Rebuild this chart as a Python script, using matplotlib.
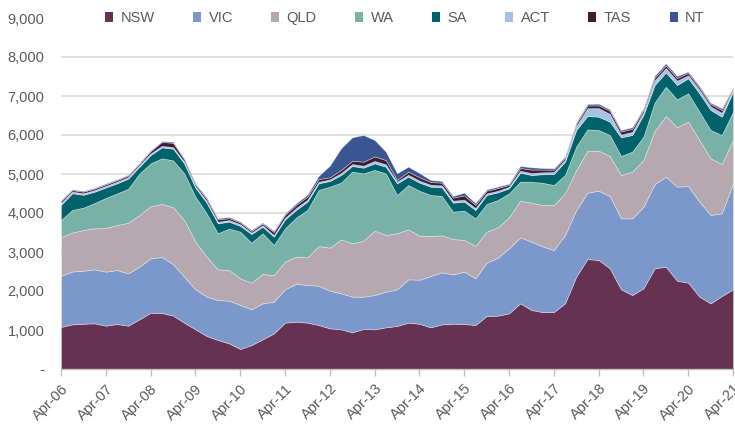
import matplotlib
matplotlib.use("Agg")
import matplotlib.pyplot as plt
from matplotlib.patches import Patch
from matplotlib.ticker import FuncFormatter
import numpy as np

plt.rcParams['font.family'] = ['Liberation Sans', 'DejaVu Sans']

years = ['Apr-06', 'Apr-07', 'Apr-08', 'Apr-09', 'Apr-10', 'Apr-11', 'Apr-12', 'Apr-13',
         'Apr-14', 'Apr-15', 'Apr-16', 'Apr-17', 'Apr-18', 'Apr-19', 'Apr-20', 'Apr-21']
states = ['NSW', 'VIC', 'QLD', 'WA', 'SA', 'ACT', 'TAS', 'NT']

NSW = [1080, 1145, 1162, 1170, 1111, 1154, 1111, 1274, 1444, 1436,
       1370, 1188, 1017, 846, 744, 658, 513, 615, 761, 912,
       1188, 1214, 1188, 1128, 1043, 1017, 940, 1026, 1017, 1068,
       1103, 1188, 1160, 1068, 1145, 1162, 1154, 1128, 1359, 1368,
       1427, 1684, 1513, 1460, 1460, 1684, 2367, 2820, 2795, 2581,
       2043, 1897, 2068, 2581, 2624, 2265, 2213, 1855, 1684, 1872, 2043]
VIC = [1310, 1355, 1359, 1386, 1385, 1384, 1342, 1350, 1394, 1436,
       1320, 1179, 1026, 1009, 1025, 1094, 1128, 915, 923, 814,
       855, 970, 965, 1008, 965, 923, 915, 829, 880, 915,
       940, 1111, 1130, 1316, 1334, 1265, 1342, 1197, 1367, 1487,
       1667, 1692, 1752, 1684, 1591, 1752, 1710, 1701, 1778, 1855,
       1820, 1966, 2094, 2159, 2308, 2410, 2479, 2436, 2265, 2120, 2718]
QLD = [990, 1000, 1043, 1051, 1120, 1154, 1299, 1325, 1341, 1359,
       1460, 1454, 1222, 1025, 787, 786, 684, 683, 752, 684,
       709, 700, 710, 1018, 1103, 1385, 1367, 1435, 1650, 1453,
       1436, 1283, 1130, 1026, 948, 906, 812, 829, 795, 777,
       795, 940, 1000, 1060, 1154, 1068, 1026, 1077, 1025, 1026,
       1111, 1197, 1197, 1360, 1555, 1522, 1650, 1581, 1453, 1264, 1111]
WA = [440, 577, 573, 650, 770, 810, 870, 1060, 1095, 1171,
      1200, 1196, 1154, 1112, 923, 1062, 1196, 1026, 1043, 769,
      855, 1000, 1214, 1436, 1564, 1453, 1838, 1727, 1556, 1581,
      983, 1136, 1150, 1052, 1009, 701, 752, 709, 710, 701,
      615, 487, 538, 570, 513, 470, 598, 547, 530, 538,
      488, 513, 598, 730, 753, 717, 727, 726, 726, 744, 726]
SA = [390, 430, 330, 290, 270, 260, 260, 180, 213, 280,
      300, 257, 230, 273, 256, 180, 150, 223, 170, 214,
      230, 197, 214, 171, 146, 196, 145, 145, 171, 171,
      299, 214, 210, 213, 222, 231, 231, 214, 231, 197,
      128, 231, 171, 220, 282, 342, 427, 342, 342, 342,
      478, 427, 556, 450, 366, 368, 384, 471, 513, 470, 510]
ACT = [40, 40, 40, 40, 40, 40, 40, 40, 40, 40,
       40, 40, 40, 40, 40, 40, 40, 35, 35, 40,
       40, 50, 50, 40, 40, 50, 50, 50, 60, 60,
       40, 50, 50, 50, 50, 50, 50, 50, 40, 40,
       40, 50, 50, 50, 50, 50, 100, 200, 220, 200,
       70, 80, 70, 120, 110, 110, 80, 90, 90, 100, 60]
TAS = [50, 40, 40, 40, 40, 40, 40, 40, 60, 100,
       110, 60, 50, 60, 60, 50, 45, 45, 45, 80,
       80, 80, 80, 70, 54, 79, 85, 104, 116, 111,
       45, 78, 85, 70, 70, 80, 110, 80, 70, 70,
       50, 70, 90, 70, 60, 50, 60, 70, 70, 80,
       80, 80, 60, 70, 70, 70, 60, 60, 60, 70, 40]
NT = [30, 20, 20, 20, 20, 20, 20, 20, 20, 20,
      30, 20, 20, 30, 30, 30, 25, 25, 25, 30,
      30, 40, 50, 80, 300, 555, 600, 684, 422, 214,
      171, 128, 110, 51, 42, 41, 70, 50, 33, 35,
      30, 51, 57, 40, 35, 34, 34, 38, 42, 37,
      38, 40, 41, 50, 51, 51, 31, 37, 38, 44, 20]

colors = ['#653252', '#7C98CB', '#B5A9AF', '#78B1A5', '#00636B', '#A6C2E4', '#3F1C34', '#3B5592']
series = [NSW, VIC, QLD, WA, SA, ACT, TAS, NT]

grey = '#595959'
fs = 10.5
fig = plt.figure(figsize=(7.35, 4.32), dpi=100)
ax = fig.add_axes([61 / 735, 63 / 432, 672 / 735, 351 / 432])

x = np.arange(len(NSW))
polys = ax.stackplot(x, *series, colors=colors, zorder=2)
for p in polys:
    p.set_edgecolor((1, 1, 1, 0.45))
    p.set_linewidth(0.5)

ax.set_xlim(0, len(NSW) - 1)
ax.set_ylim(0, 9000)
ax.set_yticks(np.arange(0, 9001, 1000))
ax.yaxis.set_major_formatter(FuncFormatter(lambda v, p: '-' if v == 0 else f'{v:,.0f}'))
ax.grid(axis='y', color='#D9D9D9', linewidth=1.1, zorder=0)
ax.set_axisbelow(True)
ax.yaxis.get_gridlines()[-1].set_visible(False)

ax.set_xticks(np.arange(0, len(NSW), 4))
ax.set_xticklabels(years, rotation=45, ha='right', va='top', rotation_mode='anchor')

for s in ['top', 'right', 'left']:
    ax.spines[s].set_visible(False)
ax.spines['bottom'].set_color('#BFBFBF')
ax.spines['bottom'].set_linewidth(1.0)
ax.spines['bottom'].set_zorder(3)

ax.tick_params(axis='y', length=0, pad=12, labelsize=fs, labelcolor=grey)
ax.tick_params(axis='x', length=5, width=1, color='#BFBFBF', pad=4, labelsize=fs, labelcolor=grey)

handles = [Patch(facecolor=c, edgecolor='none', label=s) for c, s in zip(colors, states)]
leg = ax.legend(handles=handles, ncol=8, loc='center left',
                bbox_to_anchor=(95 / 735, 414 / 432), bbox_transform=fig.transFigure,
                frameon=False, fontsize=fs, handlelength=0.55, handleheight=0.75,
                handletextpad=0.5, columnspacing=2.64, borderpad=0.2)
for t in leg.get_texts():
    t.set_color(grey)

fig.savefig('out.png', dpi=100)
